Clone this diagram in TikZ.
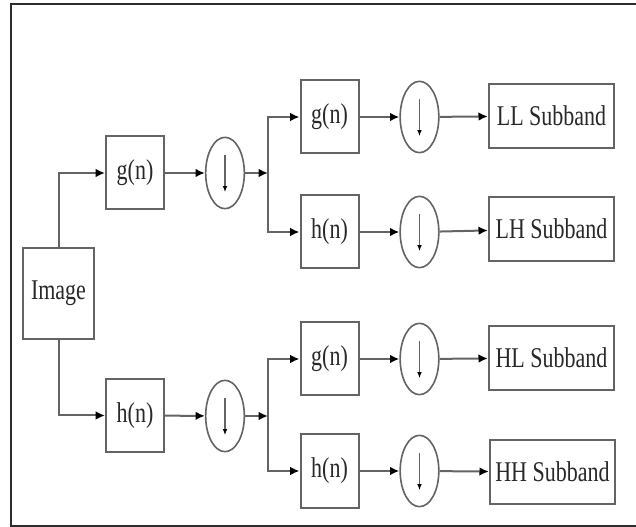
\documentclass[tikz,border=0pt]{standalone}
\usepackage{fontspec}
\setmainfont{Liberation Serif}
\usepackage{graphicx}
\usetikzlibrary{arrows.meta,shapes.geometric}

\definecolor{boxgray}{RGB}{100,100,100}
\definecolor{txtgray}{RGB}{40,40,40}
\definecolor{framegray}{RGB}{45,45,45}

\newcommand{\tall}[1]{\scalebox{1}[1.3]{#1}}

\tikzset{every picture/.style={line width=0.75pt}}
\tikzset{
  blk/.style={draw=boxgray, line width=1.5, inner sep=0pt, text=txtgray,
    font=\fontsize{16.5}{18}\selectfont},
  filt/.style={blk, minimum width=43.5, minimum height=54.75},
  dwn/.style={blk, ellipse, minimum width=29, minimum height=53.5, line width=1.2},
  sub/.style={blk, minimum width=94, minimum height=48},
  conn/.style={draw=boxgray, line width=1.5, -{Latex[length=7pt,width=6.5pt,black]}},
  dnarr/.style={draw=boxgray, line width=0.9, -{Latex[length=4.5pt,width=3.5pt,black]},
    shorten <=14pt, shorten >=13pt},
  frame/.style={draw=framegray, line width=2.2}
}

\begin{document}
\begin{tikzpicture}[x=0.75pt,y=0.75pt,yscale=-1,xscale=1]
\useasboundingbox (0,0) rectangle (636,527);

\draw [frame] (636,4) -- (11,4) -- (11,526) -- (636,526) ;

\node [blk, minimum width=53.25, minimum height=68.25] (img) at (58.5,293.5) {\tall{Image}};

\node [filt] (g1) at (135,173) {\tall{g(n)}};
\node [filt] (h1) at (135,415.5) {\tall{h(n)}};
\node [dwn] (d1) at (225,173) {};
\node [dwn] (d2) at (225,416) {};
\coordinate (j1) at (268,173);
\coordinate (j2) at (268,416);

\node [filt] (gg) at (329.5,117) {\tall{g(n)}};
\node [filt] (gh) at (329.5,232) {\tall{h(n)}};
\node [filt] (hg) at (329.5,359) {\tall{g(n)}};
\node [filt] (hh) at (329.5,471) {\tall{h(n)}};

\node [dwn] (dgg) at (419.5,117) {};
\node [dwn] (dgh) at (419.5,232) {};
\node [dwn] (dhg) at (419.5,359) {};
\node [dwn] (dhh) at (419.5,471) {};

\node [sub] (ll) at (551.5,116) {\tall{LL Subband}};
\node [sub] (lh) at (551.5,229) {\tall{LH Subband}};
\node [sub] (hl) at (551.5,358) {\tall{HL Subband}};
\node [sub] (hhb) at (552.5,472) {\tall{HH Subband}};

% down-sampling marks
\foreach \d in {d1,d2,dgg,dgh,dhg,dhh}
  \draw [dnarr] (\d.north) -- (\d.south) ;

\draw [conn] (img.north) |- (g1.west) ;
\draw [conn] (img.south) |- (h1.west) ;
\draw [conn] (g1) -- (d1) ;
\draw [conn] (h1) -- (d2) ;
\draw [conn] (d1) -- (j1) ;
\draw [conn] (d2) -- (j2) ;

\draw [conn] (j1) |- (gg.west) ;
\draw [conn] (j1) |- (gh.west) ;
\draw [conn] (j2) |- (hg.west) ;
\draw [conn] (j2) |- (hh.west) ;

\draw [conn] (gg) -- (dgg) ;
\draw [conn] (gh) -- (dgh) ;
\draw [conn] (hg) -- (dhg) ;
\draw [conn] (hh) -- (dhh) ;
\draw [conn] (dgg) -- (ll) ;
\draw [conn] (dgh) -- (lh) ;
\draw [conn] (dhg) -- (hl) ;
\draw [conn] (dhh) -- (hhb) ;

\end{tikzpicture}
\end{document}
